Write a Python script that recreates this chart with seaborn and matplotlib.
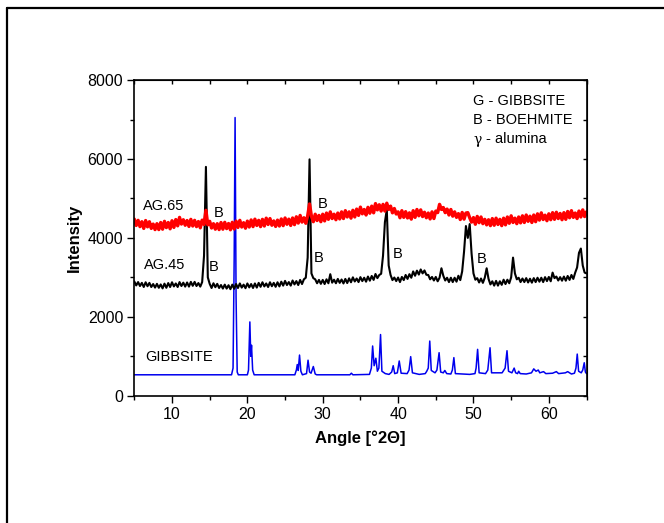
import numpy as np
import pandas as pd
import matplotlib
matplotlib.use("Agg")
import matplotlib.pyplot as plt
from matplotlib.lines import Line2D
import seaborn as sns

# ---------------- data ----------------
# AG.65 and AG.45 sampled every 0.25 deg from 5 to 65
angle_ag = np.arange(5.0, 65.001, 0.25)

ag65 = [
    4475, 4315, 4445, 4285,  # 5
    4410, 4240, 4440, 4280,  # 6
    4410, 4240, 4350, 4210,  # 7
    4360, 4210, 4390, 4220,  # 8
    4420, 4260, 4390, 4230,  # 9
    4435, 4265, 4465, 4305,  # 10
    4520, 4350, 4460, 4320,  # 11
    4440, 4290, 4470, 4300,  # 12
    4445, 4285, 4415, 4255,  # 13
    4450, 4340, 4700, 4330,  # 14
    4420, 4250, 4360, 4220,  # 15
    4360, 4210, 4390, 4220,  # 16
    4395, 4235, 4365, 4205,  # 17
    4395, 4225, 4425, 4265,  # 18
    4445, 4275, 4385, 4245,  # 19
    4425, 4275, 4455, 4285,  # 20
    4475, 4315, 4445, 4285,  # 21
    4470, 4300, 4500, 4340,  # 22
    4490, 4320, 4430, 4290,  # 23
    4450, 4300, 4480, 4310,  # 24
    4505, 4345, 4475, 4315,  # 25
    4505, 4335, 4535, 4375,  # 26
    4570, 4400, 4510, 4370,  # 27
    4560, 4860, 4550, 4410,  # 28
    4600, 4440, 4570, 4410,  # 29
    4600, 4430, 4630, 4470,  # 30
    4660, 4490, 4600, 4460,  # 31
    4630, 4480, 4660, 4490,  # 32
    4690, 4530, 4660, 4500,  # 33
    4700, 4530, 4730, 4570,  # 34
    4780, 4610, 4720, 4580,  # 35
    4775, 4625, 4805, 4635,  # 36
    4870, 4710, 4840, 4680,  # 37
    4850, 4680, 4880, 4720,  # 38
    4805, 4635, 4745, 4605,  # 39
    4660, 4510, 4690, 4520,  # 40
    4665, 4505, 4635, 4475,  # 41
    4690, 4520, 4720, 4560,  # 42
    4710, 4540, 4650, 4510,  # 43
    4630, 4480, 4660, 4490,  # 44
    4680, 4640, 4850, 4720,  # 45
    4770, 4640, 4730, 4580,  # 46
    4720, 4550, 4660, 4520,  # 47
    4615, 4465, 4645, 4475,  # 48
    4630, 4640, 4510, 4400,  # 49
    4515, 4345, 4545, 4385,  # 50
    4530, 4360, 4470, 4330,  # 51
    4460, 4310, 4490, 4320,  # 52
    4500, 4340, 4470, 4310,  # 53
    4500, 4330, 4530, 4370,  # 54
    4560, 4390, 4500, 4360,  # 55
    4530, 4380, 4560, 4390,  # 56
    4580, 4420, 4550, 4390,  # 57
    4580, 4410, 4610, 4450,  # 58
    4635, 4465, 4575, 4435,  # 59
    4610, 4460, 4640, 4470,  # 60
    4650, 4490, 4620, 4460,  # 61
    4640, 4470, 4670, 4510,  # 62
    4690, 4520, 4630, 4490,  # 63
    4680, 4530, 4710, 4540,  # 64
    4660,                    # 65
]

ag45 = [
    2895, 2795, 2880, 2780,  # 5
    2860, 2755, 2875, 2775,  # 6
    2860, 2755, 2830, 2740,  # 7
    2835, 2735, 2820, 2720,  # 8
    2840, 2735, 2855, 2755,  # 9
    2875, 2770, 2845, 2755,  # 10
    2880, 2780, 2865, 2765,  # 11
    2870, 2765, 2885, 2785,  # 12
    2885, 2780, 2855, 2765,  # 13
    2880, 3550, 5800, 3000,  # 14
    2835, 2730, 2850, 2750,  # 15
    2835, 2730, 2805, 2715,  # 16
    2815, 2715, 2800, 2700,  # 17
    2815, 2710, 2830, 2730,  # 18
    2845, 2740, 2815, 2725,  # 19
    2845, 2745, 2830, 2730,  # 20
    2845, 2740, 2860, 2760,  # 21
    2875, 2770, 2845, 2755,  # 22
    2875, 2775, 2860, 2760,  # 23
    2875, 2770, 2890, 2790,  # 24
    2910, 2805, 2880, 2790,  # 25
    2920, 2820, 2905, 2805,  # 26
    2935, 2830, 2950, 2990,  # 27
    3500, 5990, 3100, 2980,  # 28
    2950, 2850, 2935, 2835,  # 29
    2935, 2830, 2950, 2850,  # 30
    3080, 2865, 2940, 2850,  # 31
    2960, 2860, 2945, 2845,  # 32
    2960, 2855, 2975, 2875,  # 33
    3000, 2895, 2970, 2880,  # 34
    3005, 2905, 2990, 2890,  # 35
    3020, 2915, 3035, 2935,  # 36
    3085, 2980, 3060, 3090,  # 37
    3550, 4400, 4720, 3300,  # 38
    3060, 2930, 2995, 2905,  # 39
    2995, 2880, 3010, 2930,  # 40
    3060, 2960, 3080, 2990,  # 41
    3150, 3040, 3170, 3070,  # 42
    3200, 3100, 3175, 3065,  # 43
    3060, 2950, 3010, 2920,  # 44
    3010, 2900, 2990, 3230,  # 45
    3040, 2920, 2990, 2880,  # 46
    2990, 2880, 2990, 2890,  # 47
    3040, 2930, 3150, 3650,  # 48
    4300, 4000, 4350, 3600,  # 49
    3100, 2940, 2980, 2870,  # 50
    2970, 2860, 2990, 3230,  # 51
    2960, 2820, 2900, 2790,  # 52
    2910, 2790, 2900, 2810,  # 53
    2940, 2830, 2940, 2850,  # 54
    3000, 3500, 3100, 2950,  # 55
    2990, 2880, 2970, 2880,  # 56
    2980, 2870, 2965, 2865,  # 57
    2980, 2880, 2990, 2890,  # 58
    2990, 2880, 3005, 2905,  # 59
    3010, 2900, 3120, 2980,  # 60
    3020, 2920, 3005, 2915,  # 61
    3020, 2915, 3035, 2935,  # 62
    3060, 2960, 3120, 3250,  # 63
    3620, 3730, 3300, 3120,  # 64
    3100,                    # 65
]

angle_gibbsite = [
    5.0, 17.9, 18.1, 18.25, 18.37, 18.5, 18.65, 18.8, 20.0, 20.15, 20.33, 20.45,
    20.55, 20.7, 20.9, 26.3, 26.5, 26.62, 26.75, 26.92, 27.1, 27.3, 27.85, 28.05,
    28.25, 28.45, 28.75, 29.0, 29.2, 33.6, 33.8, 34.0, 36.2, 36.45, 36.62, 36.82,
    37.05, 37.25, 37.45, 37.67, 37.85, 38.3, 38.8, 39.15, 39.35, 39.55, 39.9, 40.15,
    40.4, 41.2, 41.45, 41.67, 41.9, 42.8, 43.6, 43.8, 44.0, 44.2, 44.4, 44.9,
    45.15, 45.44, 45.65, 46.0, 46.2, 46.45, 47.0, 47.2, 47.4, 47.6, 49.5, 50.2,
    50.35, 50.55, 50.75, 51.6, 51.9, 52.2, 52.4, 53.8, 54.2, 54.45, 54.65, 55.1,
    55.4, 55.6, 55.85, 56.0, 56.2, 57.0, 57.7, 58.0, 58.3, 58.6, 58.8, 59.3,
    59.6, 60.5, 61.0, 61.3, 62.2, 62.5, 63.0, 63.4, 63.6, 63.77, 63.95, 64.3,
    64.5, 64.7, 64.85, 65.0,
]
gibbsite = [
    530, 530, 700, 3500, 7050, 2500, 600, 530, 530, 650, 1870, 1000,
    1280, 650, 530, 530, 650, 790, 640, 1030, 620, 530, 560, 900,
    600, 570, 740, 550, 530, 530, 570, 530, 540, 700, 1260, 760,
    950, 620, 700, 1550, 620, 560, 540, 600, 760, 560, 580, 880,
    570, 560, 650, 990, 580, 540, 560, 620, 700, 1385, 640, 580,
    650, 1090, 600, 580, 640, 560, 550, 650, 965, 560, 540, 560,
    700, 1175, 580, 560, 650, 1215, 580, 580, 700, 1140, 620, 580,
    700, 580, 560, 620, 560, 550, 580, 680, 620, 650, 580, 610,
    560, 570, 610, 560, 580, 610, 550, 570, 700, 1055, 620, 580,
    650, 835, 600, 560,
]

series_labels = ["AG.65", "AG.45", "GIBBSITE"]
peak_labels_x = [15.5, 29.35, 14.9, 28.85, 39.25, 50.4]
peak_labels_y = [4640, 4860, 3270, 3500, 3585, 3465]
legend_lines = ["G - GIBBSITE", "B - BOEHMITE"]

# ---------------- plotting ----------------
sns.set_style("ticks")
plt.rcParams["font.family"] = ["Liberation Sans", "DejaVu Sans"]
plt.rcParams["text.color"] = "black"
plt.rcParams["axes.labelcolor"] = "black"
plt.rcParams["xtick.color"] = "black"
plt.rcParams["ytick.color"] = "black"
plt.rcParams["axes.edgecolor"] = "black"

fig = plt.figure(figsize=(6.64, 5.23), dpi=100)
ax = fig.add_axes([0.2023, 0.2434, 0.681, 0.6035])

df65 = pd.DataFrame({"angle": angle_ag, "I": ag65})
df45 = pd.DataFrame({"angle": angle_ag, "I": ag45})
dfg = pd.DataFrame({"angle": angle_gibbsite, "I": gibbsite})

sns.lineplot(data=dfg, x="angle", y="I", ax=ax, color="#0000ee", lw=1.1,
             sort=False, estimator=None)
sns.lineplot(data=df45, x="angle", y="I", ax=ax, color="black", lw=1.5,
             sort=False, estimator=None)
sns.lineplot(data=df65, x="angle", y="I", ax=ax, color="#ff0000", lw=2.4,
             sort=False, estimator=None)

ax.set_xlim(5, 65)
ax.set_ylim(0, 8000)
ax.set_xticks([10, 20, 30, 40, 50, 60])
ax.set_xticks([5, 15, 25, 35, 45, 55, 65], minor=True)
ax.set_yticks([0, 2000, 4000, 6000, 8000])
ax.set_yticks([1000, 3000, 5000, 7000], minor=True)
ax.tick_params(axis="both", which="major", direction="out", length=5,
               width=1.0, labelsize=11.5, color="black", labelcolor="black",
               pad=3)
ax.tick_params(axis="both", which="minor", direction="out", length=3,
               width=1.0, color="black")
for s in ax.spines.values():
    s.set_visible(True)
    s.set_linewidth(1.2)
    s.set_color("black")

# inward ticks on top and right
top = ax.secondary_xaxis("top")
top.set_xticks([10, 20, 30, 40, 50, 60])
top.set_xticks([5, 15, 25, 35, 45, 55, 65], minor=True)
top.tick_params(which="both", direction="in", length=3, width=1.0,
                labeltop=False)
right = ax.secondary_yaxis("right")
right.set_yticks([0, 2000, 4000, 6000, 8000])
right.set_yticks([1000, 3000, 5000, 7000], minor=True)
right.tick_params(which="both", direction="in", length=3, width=1.0,
                  labelright=False)

ax.set_xlabel("Angle [°2Θ]", fontsize=12, fontweight="bold", labelpad=6,
              color="black")
ax.set_ylabel("Intensity", fontsize=12, fontweight="bold", labelpad=4,
              color="black")

# series labels
ax.text(6.15, 4807, series_labels[0], fontsize=10.5, va="center", ha="left")
ax.text(6.3, 3312, series_labels[1], fontsize=10.5, va="center", ha="left")
ax.text(6.4, 988, series_labels[2], fontsize=10.5, va="center", ha="left")
for px, py in zip(peak_labels_x, peak_labels_y):
    ax.text(px, py, "B", fontsize=10.5, va="center", ha="left")

ax.text(50.0, 7475, legend_lines[0], fontsize=10.5, va="center", ha="left")
ax.text(50.0, 6990, legend_lines[1], fontsize=10.5, va="center", ha="left")
ax.text(50.0, 6470, "γ", fontsize=10, va="center", ha="left",
        family=["DejaVu Serif"])
ax.text(51.7, 6500, "- alumina", fontsize=10.5, va="center", ha="left")

# outer frame (top and left edges)
fig.add_artist(Line2D([6.5 / 664, 1.0], [1 - 8 / 523, 1 - 8 / 523],
                      transform=fig.transFigure, color="black", lw=1.6))
fig.add_artist(Line2D([6.5 / 664, 6.5 / 664], [0, 1 - 8 / 523],
                      transform=fig.transFigure, color="black", lw=1.6))

fig.savefig("out.png", dpi=100, facecolor="white")
